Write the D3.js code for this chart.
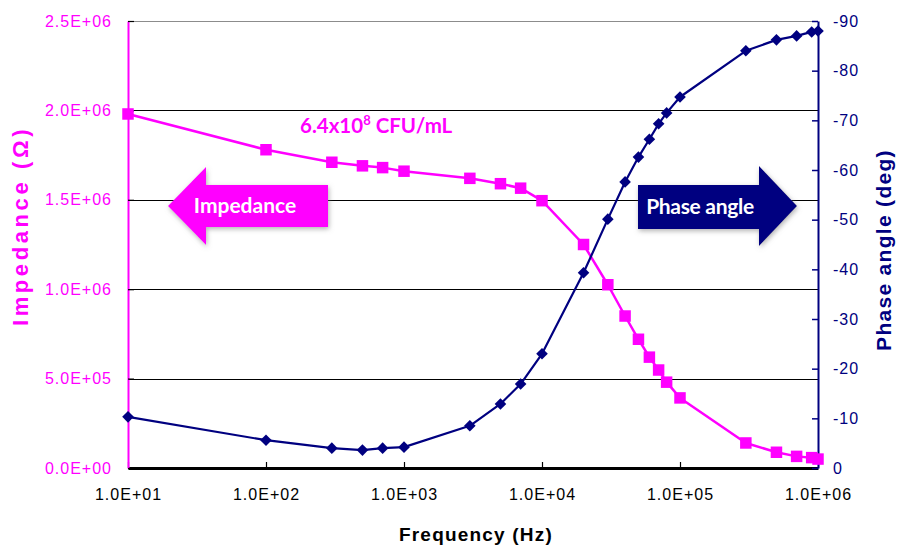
<!DOCTYPE html>
<html>
<head>
<meta charset="utf-8">
<script src="https://cdn.jsdelivr.net/npm/d3@7/dist/d3.min.js"></script>
<style>
  html, body { margin: 0; padding: 0; background: #fff; }
  svg { display: block; }
</style>
</head>
<body>
<svg id="chart" width="898" height="548"></svg>
<script>
// Impedance spectrum of a bacterial suspension: magnitude and phase vs frequency
const frequency = [10, 100, 300, 500, 700, 1000, 3000, 5000, 7000, 10000, 20000, 30000,
  40000, 50000, 60000, 70000, 80000, 100000, 300000, 500000, 700000, 900000, 1000000];
const impedance = [1.98e6, 1.78e6, 1.71e6, 1.69e6, 1.68e6, 1.66e6, 1.62e6, 1.59e6, 1.565e6,
  1.495e6, 1.25e6, 1.025e6, 0.85e6, 0.72e6, 0.62e6, 0.548e6, 0.48e6, 0.392e6, 0.14e6,
  0.088e6, 0.065e6, 0.058e6, 0.05e6];
const phaseAngle = [-10.3, -5.6, -4.0, -3.6, -4.0, -4.2, -8.5, -12.9, -16.9, -23.0, -39.3,
  -50.1, -57.6, -62.6, -66.2, -69.3, -71.5, -74.7, -84.0, -86.2, -87.0, -87.8, -88.0];

const frequencyTicks = [1e1, 1e2, 1e3, 1e4, 1e5, 1e6];
const impedanceTicks = [0, 5e5, 1e6, 1.5e6, 2e6, 2.5e6];
const phaseTicks = [0, -10, -20, -30, -40, -50, -60, -70, -80, -90];

const MAGENTA = "#ff00ff";
const NAVY = "#000080";
const TICK_FONT = "'Liberation Sans', Arial, sans-serif";
const CALLOUT_FONT = "Lato, 'Open Sans', sans-serif";

const plot = { left: 128, right: 818, top: 21, bottom: 468 };

const svg = d3.select("#chart");
svg.append("rect").attr("width", 898).attr("height", 548).attr("fill", "#fff");

const x = d3.scaleLog().domain([1e1, 1e6]).range([plot.left, plot.right]);
const yImp = d3.scaleLinear().domain([0, 2.5e6]).range([plot.bottom, plot.top]);
const yPh = d3.scaleLinear().domain([0, -90]).range([plot.bottom, plot.top]);

// "2.5E+06" style scientific labels
function sci(d) {
  const [m, e] = d.toExponential(1).split("e");
  return m + "E" + e[0] + e.slice(1).padStart(2, "0");
}

// soft halo behind the callout arrows
const defs = svg.append("defs");
const glow = defs.append("filter").attr("id", "halo")
  .attr("x", "-20%").attr("y", "-30%").attr("width", "140%").attr("height", "160%");
glow.append("feDropShadow").attr("dx", 1).attr("dy", 2).attr("stdDeviation", 2.8)
  .attr("flood-color", "#808080").attr("flood-opacity", 0.6);

// horizontal gridlines
svg.append("g").selectAll("line")
  .data(impedanceTicks.filter(d => d > 0))
  .join("line")
  .attr("x1", plot.left).attr("x2", plot.right)
  .attr("y1", d => Math.round(yImp(d)) + 0.5).attr("y2", d => Math.round(yImp(d)) + 0.5)
  .attr("stroke", d => d === 2.5e6 ? "#8c8c8c" : "#000")
  .attr("stroke-width", 1);

// callout arrows
const arrows = svg.append("g");
arrows.append("path")
  .attr("d", "M168,206 L206,167 L206,185 L328,185 L328,227 L206,227 L206,245 Z")
  .attr("fill", MAGENTA).attr("filter", "url(#halo)");
arrows.append("text")
  .attr("x", 245).attr("y", 213).attr("text-anchor", "middle")
  .attr("font-family", CALLOUT_FONT).attr("font-weight", "bold").attr("font-size", 21)
  .attr("fill", "#fff").text("Impedance");
arrows.append("path")
  .attr("d", "M638,185 L759,185 L759,166 L797,206 L759,246 L759,229 L638,229 Z")
  .attr("fill", NAVY).attr("filter", "url(#halo)");
arrows.append("text")
  .attr("x", 700).attr("y", 214).attr("text-anchor", "middle")
  .attr("font-family", CALLOUT_FONT).attr("font-weight", "bold").attr("font-size", 21)
  .attr("letter-spacing", -0.3)
  .attr("fill", "#fff").text("Phase angle");

// axes
const bottomAxis = svg.append("g")
  .attr("transform", `translate(0,${plot.bottom})`)
  .call(d3.axisBottom(x).tickValues(frequencyTicks).tickFormat(sci)
    .tickSizeInner(-6).tickSizeOuter(0).tickPadding(21));
bottomAxis.select(".domain").attr("stroke", "#000").attr("stroke-width", 3);
bottomAxis.selectAll(".tick line").attr("stroke", "#000").attr("stroke-width", 1.2);
bottomAxis.selectAll(".tick text")
  .attr("font-family", TICK_FONT).attr("font-size", 16).attr("letter-spacing", 1.0)
  .attr("fill", "#000");

const leftAxis = svg.append("g")
  .attr("transform", `translate(${plot.left},0)`)
  .call(d3.axisLeft(yImp).tickValues(impedanceTicks).tickFormat(sci)
    .tickSizeInner(-6).tickSizeOuter(0).tickPadding(16));
leftAxis.select(".domain").attr("stroke", MAGENTA).attr("stroke-width", 2);
leftAxis.selectAll(".tick line").attr("stroke", "#000").attr("stroke-width", 1.2);
leftAxis.selectAll(".tick text")
  .attr("font-family", TICK_FONT).attr("font-size", 16).attr("letter-spacing", 1.0)
  .attr("fill", MAGENTA);

const rightAxis = svg.append("g")
  .attr("transform", `translate(${plot.right},0)`)
  .call(d3.axisRight(yPh).tickValues(phaseTicks).tickFormat(d => String(d))
    .tickSizeInner(-6).tickSizeOuter(0).tickPadding(15));
rightAxis.select(".domain").attr("stroke", NAVY).attr("stroke-width", 2);
rightAxis.selectAll(".tick line").attr("stroke", NAVY).attr("stroke-width", 1.5);
rightAxis.selectAll(".tick text")
  .attr("font-family", TICK_FONT).attr("font-size", 16).attr("letter-spacing", 1.0)
  .attr("fill", NAVY);

// axis titles
svg.append("text")
  .attr("x", 476).attr("y", 541).attr("text-anchor", "middle")
  .attr("font-family", TICK_FONT).attr("font-weight", "bold").attr("font-size", 19)
  .attr("letter-spacing", 1.2).attr("fill", "#000")
  .text("Frequency (Hz)");
svg.append("text")
  .attr("transform", "translate(28,226) rotate(-90)").attr("text-anchor", "middle")
  .attr("font-family", TICK_FONT).attr("font-weight", "bold").attr("font-size", 22)
  .attr("letter-spacing", 3.6).attr("fill", MAGENTA)
  .text("Impedance (Ω)");
svg.append("text")
  .attr("transform", "translate(891,250) rotate(-90)").attr("text-anchor", "middle")
  .attr("font-family", TICK_FONT).attr("font-weight", "bold").attr("font-size", 21)
  .attr("letter-spacing", 1.3).attr("fill", NAVY)
  .text("Phase angle (deg)");

// sample concentration note
const note = svg.append("text")
  .attr("x", 300).attr("y", 133)
  .attr("font-family", CALLOUT_FONT).attr("font-weight", "bold").attr("font-size", 20.5)
  .attr("fill", MAGENTA);
note.append("tspan").text("6.4x10");
note.append("tspan").attr("font-size", 13).attr("dy", -8).text("8");
note.append("tspan").attr("dy", 8).text(" CFU/mL");

// impedance series
const impRows = frequency.map((f, i) => ({ f, v: impedance[i] }));
svg.append("path")
  .datum(impRows)
  .attr("fill", "none").attr("stroke", MAGENTA).attr("stroke-width", 2.5)
  .attr("stroke-linejoin", "round")
  .attr("d", d3.line().x(d => x(d.f)).y(d => yImp(d.v)));
svg.append("g").selectAll("path")
  .data(impRows)
  .join("path")
  .attr("transform", d => `translate(${x(d.f)},${yImp(d.v)})`)
  .attr("d", d3.symbol(d3.symbolSquare, 11.5 * 11.5))
  .attr("fill", MAGENTA);

// phase series
const phRows = frequency.map((f, i) => ({ f, v: phaseAngle[i] }));
svg.append("path")
  .datum(phRows)
  .attr("fill", "none").attr("stroke", NAVY).attr("stroke-width", 2.2)
  .attr("stroke-linejoin", "round")
  .attr("d", d3.line().x(d => x(d.f)).y(d => yPh(d.v)));
const diamond = "M0,-5.8L5.8,0L0,5.8L-5.8,0Z";
svg.append("g").selectAll("path")
  .data(phRows)
  .join("path")
  .attr("transform", d => `translate(${x(d.f)},${yPh(d.v)})`)
  .attr("d", diamond)
  .attr("fill", NAVY);
</script>
</body>
</html>
